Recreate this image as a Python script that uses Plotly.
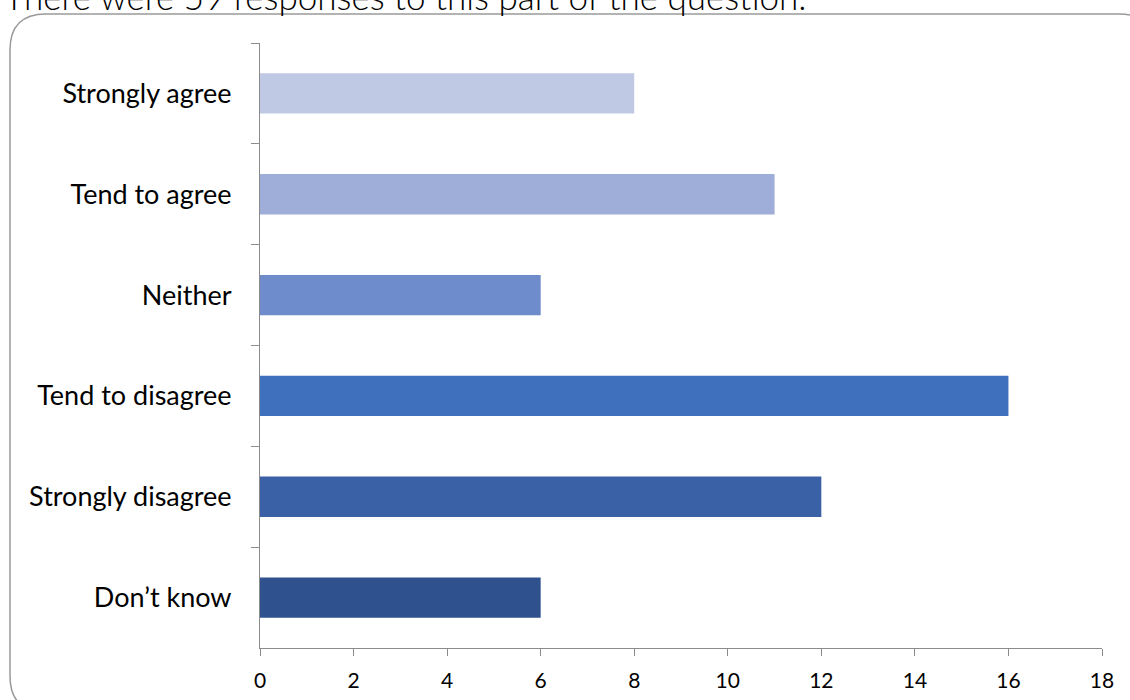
import plotly.graph_objects as go

# Survey responses (59 in total), listed top to bottom
categories = ["Strongly agree", "Tend to agree", "Neither",
              "Tend to disagree", "Strongly disagree", "Don\u2019t know"]
counts = [8, 11, 6, 16, 12, 6]
bar_colors = ["#BFC9E4", "#9EAED9", "#6E8BCC", "#3F70BD", "#3A60A5", "#2F528E"]
x_ticks = [0, 2, 4, 6, 8, 10, 12, 14, 16, 18]
heading = "There were 59 responses to this part of the question."

W, H = 1130, 700
L, R, T, B = 260, 28, 43, 52
PW, PH = W - L - R, H - T - B


def px(x):
    return (x - L) / PW


def py(y):
    return (H - B - y) / PH


fig = go.Figure(
    go.Bar(
        x=counts,
        y=categories,
        orientation="h",
        marker=dict(color=bar_colors, line=dict(width=0)),
        hoverinfo="x+y",
    )
)

axis_grey = "#8C8C8C"
label_font = "Lato, Open Sans, sans-serif"
fig.update_layout(
    width=W,
    height=H,
    margin=dict(l=L, r=R, t=T, b=B),
    paper_bgcolor="white",
    plot_bgcolor="white",
    bargap=0.6,
    showlegend=False,
    font=dict(family=label_font, color="#000000"),
    xaxis=dict(
        range=[0, 18],
        tickvals=x_ticks,
        showgrid=False,
        zeroline=False,
        showline=True,
        linecolor=axis_grey,
        linewidth=1,
        ticks="outside",
        ticklen=7,
        tickcolor=axis_grey,
        tickfont=dict(family=label_font, size=21),
        ticklabelstandoff=7,
        automargin=False,
    ),
    yaxis=dict(
        categoryorder="array",
        categoryarray=categories,
        range=[5.5, -0.5],
        showgrid=False,
        zeroline=False,
        showline=True,
        linecolor=axis_grey,
        linewidth=1,
        ticks="outside",
        tickson="boundaries",
        ticklen=8,
        tickcolor=axis_grey,
        tickfont=dict(family=label_font, size=27),
        ticklabelstandoff=22,
        automargin=False,
    ),
)

# Rounded frame around the chart
x0, y0, x1, y1, r = 10, 14, 1155, 712, 36
path = (
    f"M {px(x0)},{py(y1 - r)} L {px(x0)},{py(y0 + r)} "
    f"Q {px(x0)},{py(y0)} {px(x0 + r)},{py(y0)} "
    f"L {px(x1 - r)},{py(y0)} Q {px(x1)},{py(y0)} {px(x1)},{py(y0 + r)} "
    f"L {px(x1)},{py(y1 - r)} Q {px(x1)},{py(y1)} {px(x1 - r)},{py(y1)} "
    f"L {px(x0 + r)},{py(y1)} Q {px(x0)},{py(y1)} {px(x0)},{py(y1 - r)} Z"
)
fig.add_shape(
    type="path",
    path=path,
    xref="paper",
    yref="paper",
    line=dict(color="#9A9A9A", width=1.5),
    layer="below",
)

# Heading text above the frame
fig.add_annotation(
    text=heading,
    xref="paper",
    yref="paper",
    x=px(2),
    y=py(-4),
    xanchor="left",
    yanchor="middle",
    showarrow=False,
    font=dict(family="Lato, sans-serif", size=35, color="#000000", weight=300),
)

fig.write_html("out.html")
